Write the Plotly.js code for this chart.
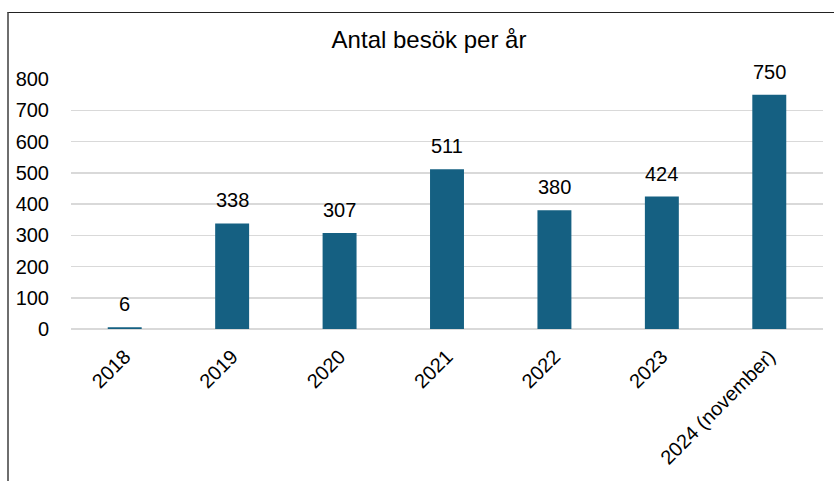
<!DOCTYPE html>
<html>
<head>
<meta charset="utf-8">
<script src="https://cdn.plot.ly/plotly-3.0.1.min.js"></script>
<style>
html,body{margin:0;padding:0;background:#fff;}
#wrap{position:relative;width:834px;height:481px;overflow:hidden;}
#chart{width:834px;height:481px;}
#frame{position:absolute;left:7px;top:12px;width:840px;height:480px;border-left:2px solid #6e6e6e;border-top:1.5px solid #222;pointer-events:none;box-sizing:border-box;}
</style>
</head>
<body>
<div id="wrap">
<div id="chart"></div>
<div id="frame"></div>
</div>
<script>
const categories = ["2018", "2019", "2020", "2021", "2022", "2023", "2024 (november)"];
const visits = [6, 338, 307, 511, 380, 424, 750];
const yTicks = [0, 100, 200, 300, 400, 500, 600, 700, 800];
const chartTitle = "Antal besök per år";

const FONT = "'Liberation Sans', Arial, sans-serif";

const trace = {
  type: "bar",
  x: categories,
  y: visits,
  marker: {color: "#156082"},
  hoverinfo: "x+y"
};

// category index i is the position of categories[i] on the category axis
const labels = categories.map((c, i) => ({
  x: i,
  y: visits[i],
  xref: "x",
  yref: "y",
  text: String(visits[i]),
  showarrow: false,
  xanchor: "center",
  yanchor: "middle",
  yshift: 23,
  font: {family: FONT, size: 20, color: "#000"}
}));

const layout = {
  width: 834,
  height: 481,
  margin: {l: 71, r: 11, t: 79, b: 152},
  paper_bgcolor: "#fff",
  plot_bgcolor: "#fff",
  showlegend: false,
  bargap: 0.684,
  font: {family: FONT, size: 20, color: "#000"},
  title: {
    text: chartTitle,
    font: {family: FONT, size: 24, color: "#000"},
    x: 429 / 834, xanchor: "center",
    y: 1 - 40 / 481, yanchor: "middle",
    xref: "container", yref: "container"
  },
  annotations: labels,
  xaxis: {
    type: "category",
    categoryarray: categories,
    range: [-0.5, categories.length - 0.5],
    tickangle: -45,
    showgrid: false,
    showline: false,
    zeroline: false,
    ticks: "",
    ticklabelstandoff: 11,
    tickfont: {family: FONT, size: 20, color: "#000"},
    automargin: false
  },
  yaxis: {
    range: [0, 800],
    tickvals: yTicks,
    ticktext: yTicks.map(String),
    showgrid: true,
    gridcolor: "#d9d9d9",
    gridwidth: 1.5,
    zeroline: true,
    zerolinecolor: "#d9d9d9",
    zerolinewidth: 1.5,
    showline: false,
    ticks: "",
    ticklabelstandoff: 21,
    tickfont: {family: FONT, size: 20, color: "#000"},
    automargin: false
  }
};

Plotly.newPlot("chart", [trace], layout, {displayModeBar: false, staticPlot: true});
</script>
</body>
</html>
